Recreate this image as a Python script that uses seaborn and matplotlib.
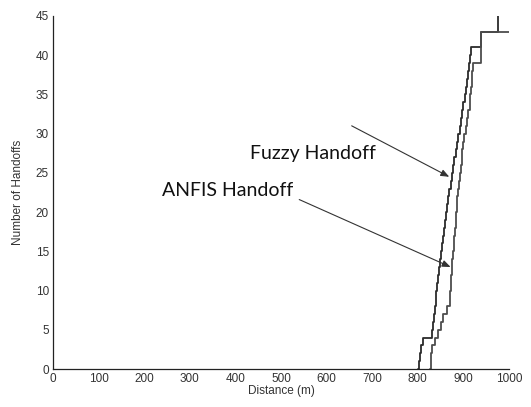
import matplotlib
matplotlib.use("Agg")
import matplotlib.pyplot as plt
import seaborn as sns
import pandas as pd

# Data
fuzzy_dist = [801, 803, 805, 808, 811, 832, 834, 836, 838, 840, 841, 843, 845, 847,
              849, 851, 853, 856, 858, 860, 862, 864, 866, 869, 872, 875, 877, 880,
              883, 886, 889, 892, 895, 898, 900, 903, 905, 907, 910, 912, 914, 916,
              938, 938, 976]
fuzzy_count = [0, 1, 2, 3, 4, 5, 6, 7, 8, 9, 10, 11, 12, 13, 14, 15, 16, 17, 18, 19,
               20, 21, 22, 23, 24, 25, 26, 27, 28, 29, 30, 31, 32, 33, 34, 35, 36, 37,
               38, 39, 40, 41, 42, 43, 48]
anfis_dist = [827, 828, 829, 831, 838, 845, 850, 855, 863, 871, 871, 872, 873, 875,
              876, 877, 879, 880, 881, 883, 884, 885, 886, 888, 890, 892, 894, 896,
              898, 900, 902, 905, 908, 911, 914, 915, 916, 918, 919, 920, 938, 938,
              938, 938, 1000]
anfis_count = [0, 1, 2, 3, 4, 5, 6, 7, 8, 9, 10, 11, 12, 13, 14, 15, 16, 17, 18, 19,
               20, 21, 22, 23, 24, 25, 26, 27, 28, 29, 30, 31, 32, 33, 34, 35, 36, 37,
               38, 39, 40, 41, 42, 43, 43]
x_ticks = [0, 100, 200, 300, 400, 500, 600, 700, 800, 900, 1000]
y_ticks = [0, 5, 10, 15, 20, 25, 30, 35, 40, 45]

df_f = pd.DataFrame({"Distance": fuzzy_dist, "Count": fuzzy_count})
df_a = pd.DataFrame({"Distance": anfis_dist, "Count": anfis_count})

sns.set_style("white")
plt.rcParams["font.family"] = ["Liberation Sans", "DejaVu Sans"]

fig = plt.figure(figsize=(5.31, 4.07), dpi=100)
ax = fig.add_axes([53 / 531, 1 - 369 / 407, 456 / 531, 353 / 407])

sns.lineplot(data=df_f, x="Distance", y="Count", ax=ax, drawstyle="steps-post",
             color="#2b2b2b", lw=1.3, estimator=None, sort=False)
sns.lineplot(data=df_a, x="Distance", y="Count", ax=ax, drawstyle="steps-post",
             color="#4d4d4d", lw=1.3, estimator=None, sort=False)

ax.set_xlim(0, 1000)
ax.set_ylim(0, 45)
ax.set_xticks(x_ticks)
ax.set_yticks(y_ticks)
ax.set_xticklabels([str(t) for t in x_ticks])
ax.set_yticklabels([str(t) for t in y_ticks])
for s in ["top", "right"]:
    ax.spines[s].set_visible(False)
for s in ["left", "bottom"]:
    ax.spines[s].set_color("#222222")
    ax.spines[s].set_linewidth(0.9)
ax.tick_params(direction="in", length=4, width=0.9, colors="#222222",
               labelcolor="#333333", labelsize=8.5, pad=3)
ax.set_xlabel("Distance (m)", fontsize=8.5, color="#333333", labelpad=0)
ax.set_ylabel("Number of Handoffs", fontsize=8.5, color="#333333", labelpad=8)

arrow_kw = dict(arrowstyle="-|>,head_length=0.5,head_width=0.2", color="#333333",
                lw=0.8, shrinkA=0, shrinkB=0)
lab_kw = dict(ha="center", va="center", fontsize=14, family=["Lato", "DejaVu Sans"],
              color="#111111")
ax.text(570, 27.5, "Fuzzy Handoff", **lab_kw)
ax.annotate("", xy=(869, 24.5), xytext=(655, 31.0), arrowprops=arrow_kw)
ax.text(384, 22.7, "ANFIS Handoff", **lab_kw)
ax.annotate("", xy=(872, 13), xytext=(540, 21.6), arrowprops=arrow_kw)

fig.savefig("out.png", dpi=100, facecolor="white")
